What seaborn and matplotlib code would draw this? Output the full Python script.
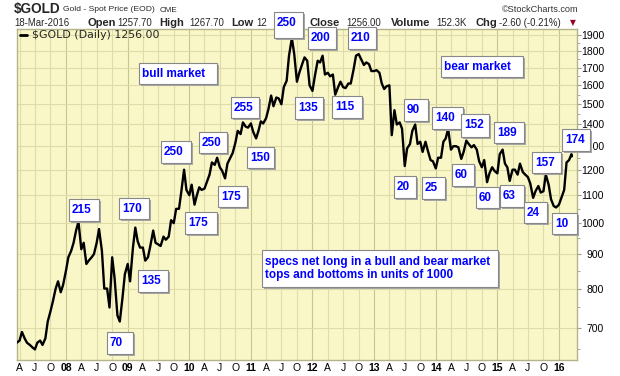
import matplotlib
matplotlib.use('Agg')
import matplotlib.pyplot as plt
import matplotlib.ticker as mticker
from matplotlib.patches import Rectangle
from matplotlib.lines import Line2D
import pandas as pd
import seaborn as sns

W, H = 620, 376

# gold closes on the 1st and 15th of each month
price_2007 = [665, 670, 690, 675, 665, 660, 655, 650, 665, 670, 660, 675,
              715, 740, 765, 800, 820, 790, 810]
price_2008 = [850, 890, 910, 935, 975, 1005, 915, 935, 870, 880, 890, 900,
              935, 980, 910, 800, 800, 750, 890, 830, 730, 715, 775, 840]
price_2009 = [870, 820, 920, 985, 940, 920, 920, 880, 890, 925, 975, 935,
              930, 925, 955, 945, 955, 1010, 1000, 1050, 1050, 1115, 1200, 1120]
price_2010 = [1100, 1140, 1065, 1100, 1130, 1120, 1125, 1150, 1180, 1230, 1220, 1250,
              1210, 1195, 1165, 1225, 1250, 1270, 1315, 1370, 1355, 1410, 1390, 1385]
price_2011 = [1405, 1365, 1335, 1370, 1415, 1405, 1430, 1475, 1545, 1490, 1535, 1530,
              1500, 1590, 1625, 1770, 1880, 1780, 1620, 1670, 1720, 1760, 1740, 1600]
price_2012 = [1570, 1650, 1740, 1730, 1770, 1660, 1670, 1650, 1660, 1550, 1590, 1620,
              1590, 1585, 1610, 1610, 1690, 1770, 1780, 1750, 1715, 1730, 1720, 1680]
price_2013 = [1680, 1685, 1670, 1610, 1580, 1595, 1600, 1350, 1470, 1400, 1410, 1380,
              1215, 1290, 1310, 1370, 1400, 1310, 1320, 1275, 1320, 1280, 1240, 1235]
price_2014 = [1205, 1250, 1250, 1320, 1335, 1380, 1285, 1300, 1300, 1295, 1245, 1275,
              1325, 1310, 1295, 1305, 1285, 1235, 1210, 1240, 1150, 1185, 1210, 1195]
price_2015 = [1185, 1265, 1285, 1225, 1210, 1155, 1200, 1200, 1180, 1225, 1190, 1180,
              1170, 1145, 1090, 1115, 1135, 1110, 1115, 1180, 1140, 1085, 1060, 1055]
price_2016 = [1065, 1090, 1120, 1230, 1240, 1265]
last_date = '2016-03-18'
last_close = 1256.00

y_ticks = list(range(700, 2000, 100))

# net long positions written on the chart
box_labels = ['215', '170', '70', '135', '250', '175', '250', '175', '255', '150',
              '250', '135', '200', '115', '210', 'bull market', 'bear market',
              '20', '90', '25', '140', '60', '152', '60', '189', '63', '24',
              '157', '10', '174',
              'specs net long in a bull and bear market\ntops and bottoms in units of 1000']
# box layout in pixels (left, top, right, bottom)
box_layout = [(69, 199, 99, 221), (119, 198, 149, 219), (107, 332, 133, 354),
              (138, 270, 168, 292), (161, 141, 191, 163), (185, 212, 217, 234),
              (199, 132, 227, 153), (218, 186, 247, 207), (231, 97, 259, 118),
              (247, 147, 274, 168), (274, 12, 303, 38), (295, 97, 323, 119),
              (308, 27, 336, 49), (332, 96, 362, 118), (348, 27, 376, 49),
              (139, 63, 217, 84), (441, 56, 523, 77),
              (394, 176, 416, 198), (404, 99, 428, 121), (422, 177, 445, 199),
              (432, 107, 463, 129), (452, 164, 474, 186), (461, 114, 489, 137),
              (476, 187, 499, 208), (494, 122, 524, 143), (500, 185, 524, 207),
              (524, 202, 547, 223), (532, 152, 561, 173), (552, 213, 577, 234),
              (562, 129, 590, 151), (262, 250, 498, 287)]

dates = list(pd.date_range('2007-03-15', '2016-03-15', freq='SMS'))
dates.append(pd.Timestamp(last_date))
prices = (price_2007 + price_2008 + price_2009 + price_2010 + price_2011 +
          price_2012 + price_2013 + price_2014 + price_2015 + price_2016 + [last_close])
df = pd.DataFrame({'date': dates, 'close': prices})


def fx(x):
    return x / W


def fy(y):
    return 1 - y / H


sns.set_theme(style='white')
plt.rcParams['font.family'] = ['Liberation Sans', 'DejaVu Sans']

fig = plt.figure(figsize=(W / 100, H / 100), dpi=100)
fig.patch.set_facecolor('white')
ax = fig.add_axes([fx(16.7), fy(360), (577 - 16.7) / W, (360 - 29) / H])
ax.set_facecolor('#F9F7C8')

sns.lineplot(data=df, x='date', y='close', ax=ax, color='black', lw=1.7, zorder=3)

ax.set_yscale('log')
ax.set_ylim(627, 1939)
ax.set_xlim(pd.Timestamp('2007-03-15'), pd.Timestamp('2016-04-17'))
ax.set_xlabel('')
ax.set_ylabel('')

ax.yaxis.tick_right()
ax.yaxis.set_major_locator(mticker.FixedLocator(y_ticks))
ax.yaxis.set_minor_locator(mticker.FixedLocator([v - 50 for v in y_ticks] + [1950]))
ax.yaxis.set_major_formatter(mticker.FuncFormatter(lambda v, p: f'{int(v)}'))
ax.yaxis.set_minor_formatter(mticker.NullFormatter())
ax.tick_params(axis='y', which='major', direction='out', length=3, width=0.8,
               color='#9c9c80', labelsize=7.5, pad=16.5, labelcolor='black',
               left=False, right=True)
ax.tick_params(axis='y', which='minor', direction='out', length=2, width=0.6,
               color='#9c9c80', left=False, right=True)
for lab in ax.get_yticklabels():
    lab.set_horizontalalignment('right')

quarters = pd.date_range('2007-04-01', '2016-01-01', freq='QS-JAN')
q_labels = [d.strftime('%y') if d.month == 1 else {4: 'A', 7: 'J', 10: 'O'}[d.month]
            for d in quarters]
ax.set_xticks(quarters)
ax.set_xticklabels(q_labels)
ax.tick_params(axis='x', length=0, pad=2, labelsize=7.5, labelcolor='black')
for d, lab in zip(quarters, ax.get_xticklabels()):
    if d.month == 1:
        lab.set_fontweight('bold')

ax.grid(True, which='major', color='#DEDDAA', lw=0.8)
ax.set_axisbelow(True)
for d, gl in zip(quarters, ax.xaxis.get_gridlines()):
    if d.month == 1:
        gl.set_color('#C6C78E')

for s in ax.spines.values():
    s.set_color('#B4B48A')
    s.set_linewidth(1)

# legend line inside plot
fig.add_artist(Line2D([fx(20), fx(27)], [fy(35), fy(35)], color='black', lw=2,
                      transform=fig.transFigure))
fig.text(fx(32), fy(35), '$GOLD (Daily) 1256.00', family='DejaVu Sans', size=7.9,
         va='center', ha='left')

# header
fig.text(fx(14), fy(9), '$GOLD', weight='bold', size=9.8, va='center', zorder=2)
fig.text(fx(63), fy(9.5), 'Gold - Spot Price (EOD)', size=6.1, va='center', zorder=2)
fig.text(fx(160), fy(10), 'CME', size=5.8, va='center', zorder=2)
fig.text(fx(578), fy(9), '\u00a9StockCharts.com', size=6.6, va='center', ha='right',
         color='#333333', zorder=2)
header2 = [('18-Mar-2016', 14, 'normal'), ('Open', 87, 'bold'), ('1257.70', 117, 'normal'),
           ('High', 159, 'bold'), ('1267.70', 189, 'normal'), ('Low', 231, 'bold'),
           ('12', 256, 'normal'), ('Close', 310, 'bold'), ('1256.00', 346, 'normal'),
           ('Volume', 391, 'bold'), ('152.3K', 436, 'normal'), ('Chg', 475, 'bold'),
           ('-2.60 (-0.21%)', 499, 'normal')]
for txt, x, wt in header2:
    fig.text(fx(x), fy(23), txt, weight=wt, size=8 if wt == 'bold' else 6.9,
             va='center', zorder=2)
fig.text(fx(570), fy(23), '\u25bc', size=5.5, color='#990022', va='center',
         family='DejaVu Sans', zorder=2)

# annotation boxes
for label, (x0, y0, x1, y1) in zip(box_labels, box_layout):
    w, h = (x1 - x0) / W, (y1 - y0) / H
    fig.add_artist(Rectangle((fx(x0 + 2), fy(y1 + 2)), w, h, transform=fig.transFigure,
                             facecolor='#a6a6a6', edgecolor='none', zorder=5))
    fig.add_artist(Rectangle((fx(x0), fy(y1)), w, h, transform=fig.transFigure,
                             facecolor='white', edgecolor='#888888', lw=0.8, zorder=6))
    ty = (y0 + y1) / 2 if '\n' in label else y0 + 11
    fig.text(fx(x0 + 3), fy(ty), label, color='#0000FF', weight='bold', size=8.5,
             va='center', ha='left', linespacing=1.2, zorder=7)

fig.savefig('out.png', dpi=100, facecolor='white')
